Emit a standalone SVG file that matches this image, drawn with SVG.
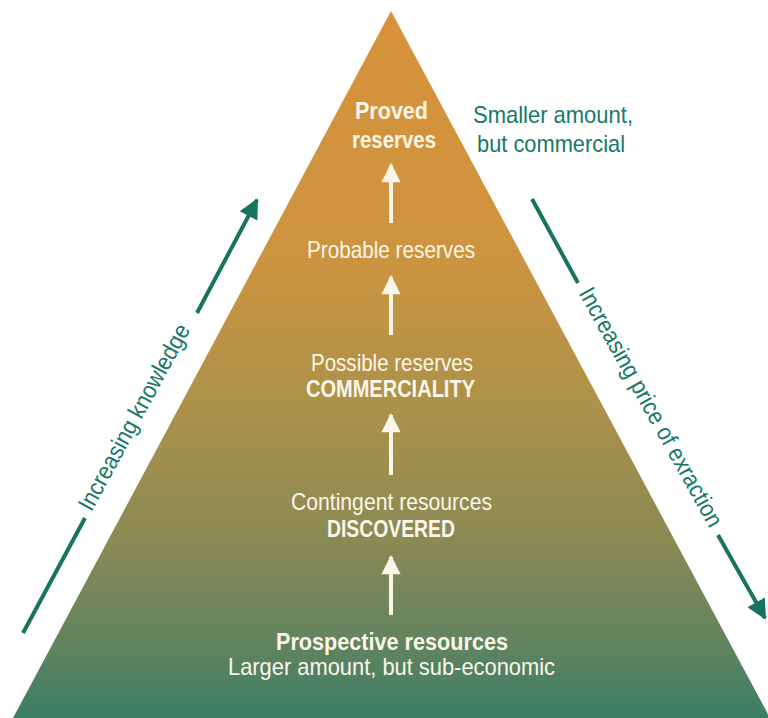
<svg xmlns="http://www.w3.org/2000/svg" width="768" height="718" viewBox="0 0 768 718">
<style>
.w{font-family:"Liberation Sans",Arial,sans-serif;font-size:24px;fill:#FBF6EA;text-anchor:middle}
.b{font-weight:bold}
.t{font-family:"Liberation Sans",Arial,sans-serif;font-size:24px;fill:#17796A}
.ln{stroke:#18735F;stroke-width:4;fill:none}
.wa{stroke:#FBF6EA;stroke-width:4;fill:none}
</style>
<defs>
<linearGradient id="g" gradientUnits="userSpaceOnUse" x1="0" y1="11" x2="0" y2="718">
<stop offset="0" stop-color="#D89239"/>
<stop offset="0.35" stop-color="#CD9440"/>
<stop offset="0.55" stop-color="#AD9249"/>
<stop offset="0.75" stop-color="#8A8A54"/>
<stop offset="0.9" stop-color="#608360"/>
<stop offset="1" stop-color="#3A7E66"/>
</linearGradient>
<marker id="ta" viewBox="0 0 10 10" refX="9" refY="5" markerWidth="6" markerHeight="5" markerUnits="strokeWidth" orient="auto">
<path d="M0,0 L10,5 L0,10 z" fill="#18735F"/>
</marker>
<marker id="wh" viewBox="0 0 10 10" refX="9" refY="5" markerWidth="6" markerHeight="4.8" markerUnits="strokeWidth" orient="auto">
<path d="M0,0 L10,5 L0,10 z" fill="#FBF6EA"/>
</marker>
</defs>
<rect width="768" height="718" fill="#FFFFFF"/>
<g id="pyramid">
<polygon points="391,11 770,718 13,718" fill="url(#g)"/>
</g>
<g id="connectors">
<line class="wa" x1="391" y1="223" x2="391" y2="165" marker-end="url(#wh)"/>
<line class="wa" x1="391" y1="335" x2="391" y2="277" marker-end="url(#wh)"/>
<line class="wa" x1="391" y1="475" x2="391" y2="415" marker-end="url(#wh)"/>
<line class="wa" x1="391" y1="615" x2="391" y2="557" marker-end="url(#wh)"/>
<line class="ln" x1="23" y1="633" x2="85" y2="518"/>
<line class="ln" x1="197" y1="313" x2="257" y2="200" marker-end="url(#ta)"/>
<line class="ln" x1="532" y1="199" x2="578" y2="283"/>
<line class="ln" x1="718" y1="535" x2="765" y2="618" marker-end="url(#ta)"/>
</g>
<g id="proved">
<text class="w b" x="391.5" y="119" textLength="73" lengthAdjust="spacingAndGlyphs">Proved</text>
<text class="w b" x="394" y="148" textLength="84" lengthAdjust="spacingAndGlyphs">reserves</text>
</g>
<g id="note-top">
<text class="t" x="473" y="123" textLength="160" lengthAdjust="spacingAndGlyphs">Smaller amount,</text>
<text class="t" x="477" y="152" textLength="148" lengthAdjust="spacingAndGlyphs">but commercial</text>
</g>
<g id="probable">
<text class="w" x="391" y="258" textLength="168" lengthAdjust="spacingAndGlyphs">Probable reserves</text>
</g>
<g id="possible">
<text class="w" x="392" y="371" textLength="162" lengthAdjust="spacingAndGlyphs">Possible reserves</text>
<text class="w b" x="390.5" y="397" textLength="169" lengthAdjust="spacingAndGlyphs">COMMERCIALITY</text>
</g>
<g id="contingent">
<text class="w" x="391.5" y="510" textLength="201" lengthAdjust="spacingAndGlyphs">Contingent resources</text>
<text class="w b" x="391" y="537" textLength="128" lengthAdjust="spacingAndGlyphs">DISCOVERED</text>
</g>
<g id="prospective">
<text class="w b" x="392" y="650" textLength="232" lengthAdjust="spacingAndGlyphs">Prospective resources</text>
<text class="w" x="391.5" y="675" textLength="327" lengthAdjust="spacingAndGlyphs">Larger amount, but sub-economic</text>
</g>
<g id="knowledge">
<text class="t" text-anchor="middle" transform="translate(141,421) rotate(-61.5)" textLength="208" lengthAdjust="spacingAndGlyphs">Increasing knowledge</text>
</g>
<g id="price">
<text class="t" text-anchor="middle" transform="translate(644,411) rotate(60.9)" textLength="270" lengthAdjust="spacingAndGlyphs">Increasing price of exraction</text>
</g>
</svg>
